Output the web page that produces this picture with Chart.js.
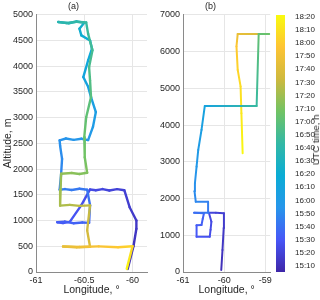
<!DOCTYPE html>
<html><head><meta charset="utf-8">
<script src="https://cdn.jsdelivr.net/npm/chart.js@4.4.1/dist/chart.umd.min.js"></script>
<style>
html,body{margin:0;padding:0;background:#fff;}
#wrap{position:relative;width:320px;height:300px;overflow:hidden;background:#fff;}
canvas{position:absolute;top:0;}
#cbt{position:absolute;left:316px;top:140px;transform:translate(-50%,-50%) rotate(-90deg);font:9.5px 'Liberation Sans',Arial,sans-serif;line-height:10px;color:#262626;white-space:nowrap;}
</style></head><body>
<div id="wrap">
<canvas id="ca" style="left:0" width="150" height="300"></canvas>
<canvas id="cb" style="left:150px" width="125" height="300"></canvas>
<canvas id="cc" style="left:272px" width="48" height="300"></canvas>
<div id="cbt">UTC time, h</div>
</div>
<script>
// ---- tick labels ----
const aTicksX = [-61, -60.5, -60];
const aTicksY = [0, 500, 1000, 1500, 2000, 2500, 3000, 3500, 4000, 4500, 5000];
const bTicksX = [-61, -60, -59];
const bTicksY = [0, 1000, 2000, 3000, 4000, 5000, 6000, 7000];
const cbTicks = ['15:10','15:20','15:30','15:40','15:50','16:00','16:10','16:20','16:30','16:40','16:50',
                 '17:00','17:10','17:20','17:30','17:40','17:50','18:00','18:10','18:20'];
const cbLimits = ['15:05.4', '18:21.3'];

// ---- flight (a) ----
const aLon = [-60.05,-59.99,-59.96,-59.96,-60.03,-60.085,-60.16,-60.24,-60.31,-60.38,-60.44,-60.53,-60.65,-60.72,-60.78,-60.70,-60.61,-60.52,-60.45,-60.44,-60.47,-60.55,-60.63,-60.70,-60.755,-60.74,-60.73,-60.75,-60.755,-60.69,-60.61,-60.53,-60.46,-60.41,-60.38,-60.43,-60.46,-60.51,-60.46,-60.42,-60.44,-60.53,-60.55,-60.50,-60.58,-60.66,-60.77,-60.68,-60.58,-60.48,-60.46,-60.415,-60.45,-60.44,-60.43,-60.48,-60.50,-60.495,-60.47,-60.55,-60.63,-60.74,-60.745,-60.75,-60.65,-60.55,-60.44,-60.47,-60.44,-60.58,-60.72,-60.55,-60.35,-60.15,-60.00,-60.06];
const aAlt = [60,500,840,1000,1260,1590,1610,1585,1612,1590,1605,1300,975,950,968,980,948,962,955,1300,1600,1618,1595,1612,1600,1900,2200,2450,2560,2595,2568,2590,2565,2820,3110,3400,3600,3790,4115,4340,4500,4600,4730,4845,4870,4835,4860,4840,4865,4850,4630,4310,3985,3725,3400,3010,2620,2230,1930,1905,1925,1910,1600,1290,1305,1285,1295,810,490,480,495,485,498,482,500,60];
const aTime = ['15:10','15:12','15:14','15:15','15:17','15:19','15:20','15:21','15:22','15:23','15:24','15:27','15:30','15:31','15:32','15:33','15:34','15:35','15:36','15:39','15:42','15:43','15:44','15:45','15:46','15:48','15:50','15:52','15:53','15:54','15:55','15:56','15:57','16:00','16:03','16:06','16:08','16:10','16:14','16:17','16:19','16:21','16:23','16:27','16:30','16:33','16:37','16:40','16:42','16:45','16:47','16:50','16:53','16:55','16:58','17:02','17:05','17:08','17:12','17:13','17:15','17:17','17:20','17:23','17:25','17:27','17:29','17:35','17:39','17:42','17:45','17:49','17:54','17:59','18:05','18:20'];

// ---- flight (b), two recorded pieces ----
const b1Lon = [-60.07,-60.04,-60.01,-60.005,-60.20,-60.37,-60.31,-60.33,-60.35,-60.67,-60.67,-60.55,-60.52,-60.49,-60.73,-60.38,-60.39,-60.69,-60.72,-60.71,-60.67,-60.63,-60.55,-60.47,-59.21,-59.16,-58.90];
const b1Alt = [54,600,1200,1600,1610,1610,1370,1150,960,960,1270,1280,1450,1600,1610,1615,1915,1915,2200,2415,2870,3320,3870,4520,4520,6480,6480];
const b1Time = ['15:10','15:13','15:16','15:18','15:20','15:22','15:24','15:25','15:27','15:30','15:32','15:33','15:34','15:35','15:39','15:43','15:46','15:49','15:51','15:53','15:57','16:00','16:04','16:09','16:45','17:02','17:06'];
const b2Lon = [-59.18,-59.67,-59.70,-59.67,-59.60,-59.58,-59.55];
const b2Alt = [6480,6480,6140,5500,5050,4320,3230];
const b2Time = ['17:38','17:46','17:58','18:04','18:08','18:13','18:20'];

// ---- helpers ----
const FONT = "'Liberation Sans', Arial, sans-serif";
const TXT = '#262626';
const toMin = s => { const p = s.split(':'); return (+p[0]) * 60 + (+p[1]); };
const cbMin = toMin(cbLimits[0]), cbMax = toMin(cbLimits[1]);
const PARULA = [
  [0.000, 62, 38, 168],
  [0.125, 71, 86, 247],
  [0.250, 39, 150, 235],
  [0.375, 10, 172, 213],
  [0.500, 51, 184, 165],
  [0.625, 113, 195, 100],
  [0.750, 206, 185, 62],
  [0.875, 254, 196, 52],
  [1.000, 249, 251, 14]
];
function parula(f) {
  f = Math.max(0, Math.min(1, f));
  for (let i = 1; i < PARULA.length; i++) {
    if (f <= PARULA[i][0]) {
      const a = PARULA[i - 1], b = PARULA[i];
      const u = (f - a[0]) / (b[0] - a[0]);
      const c = [1, 2, 3].map(k => Math.round(a[k] + (b[k] - a[k]) * u));
      return 'rgb(' + c.join(',') + ')';
    }
  }
  return 'rgb(249,251,14)';
}
const colAt = m => parula((m - cbMin) / (cbMax - cbMin));
const pts = (lon, alt) => lon.map((x, i) => ({ x: x, y: alt[i] }));
const segGrad = times => ctx => {
  const c = ctx.chart.ctx;
  const g = c.createLinearGradient(ctx.p0.x, ctx.p0.y, ctx.p1.x, ctx.p1.y);
  g.addColorStop(0, colAt(toMin(times[ctx.p0DataIndex])));
  g.addColorStop(1, colAt(toMin(times[ctx.p1DataIndex])));
  g._k = ctx.p0DataIndex;
  return g;
};
const track = (lon, alt, times, w) => ({
  data: pts(lon, alt), borderWidth: w, pointRadius: 0, borderCapStyle: 'round', borderJoinStyle: 'round',
  borderColor: colAt(toMin(times[0])), segment: { borderColor: segGrad(times) }
});
const fixedTicks = arr => s => { s.ticks = arr.map(v => ({ value: v })); };
const gridC = '#e6e6e6', axisC = '#8a8a8a';
function axisX(min, max, ticks) {
  return {
    type: 'linear', min: min, max: max, afterBuildTicks: fixedTicks(ticks), afterFit: s => { s.height = 28; },
    grid: { color: gridC, drawTicks: false }, border: { color: axisC },
    ticks: { font: { family: FONT, size: 9 }, color: TXT, padding: 3, maxRotation: 0, autoSkip: false, callback: v => String(v) },
    title: { display: true, text: 'Longitude, °', font: { family: FONT, size: 10.5 }, color: TXT, padding: { top: 0, bottom: 4 } }
  };
}
function axisY(min, max, ticks, width, title) {
  return {
    type: 'linear', min: min, max: max, afterBuildTicks: fixedTicks(ticks), afterFit: s => { s.width = width; },
    grid: { color: gridC, drawTicks: false }, border: { color: axisC },
    ticks: { font: { family: FONT, size: 9 }, color: TXT, padding: 3, autoSkip: false, callback: v => String(v) },
    title: { display: !!title, text: title || '', font: { family: FONT, size: 10.5 }, color: TXT, padding: { top: 2, bottom: 0 } }
  };
}
function base(label, right) {
  return {
    responsive: false, animation: false, events: [],
    layout: { padding: { left: 0, right: right, top: 0, bottom: 0 } },
    plugins: {
      legend: { display: false }, tooltip: { enabled: false },
      title: { display: true, text: label, font: { family: FONT, size: 9, weight: 'normal' }, color: TXT, padding: { top: 1, bottom: 3 } }
    }
  };
}

// ---- chart (a) ----
const oa = base('(a)', 3);
oa.scales = { x: axisX(-61, -59.85, aTicksX), y: axisY(0, 5000, aTicksY, 36, 'Altitude, m') };
new Chart(document.getElementById('ca'), { type: 'line', data: { datasets: [track(aLon, aAlt, aTime, 2.4)] }, options: oa });

// ---- chart (b) ----
const ob = base('(b)', 4);
ob.scales = { x: axisX(-61, -58.88, bTicksX), y: axisY(0, 7000, bTicksY, 33, null) };
new Chart(document.getElementById('cb'), { type: 'line',
  data: { datasets: [track(b1Lon, b1Alt, b1Time, 2), track(b2Lon, b2Alt, b2Time, 2)] }, options: ob });

// ---- colour bar ----
new Chart(document.getElementById('cc'), {
  type: 'bar',
  data: { labels: [''], datasets: [{
    data: [[cbMin, cbMax]], borderWidth: 0, barPercentage: 1, categoryPercentage: 1,
    backgroundColor: ctx => {
      const ch = ctx.chart; if (!ch.chartArea) return '#888';
      const ys = ch.scales.y;
      const g = ch.ctx.createLinearGradient(0, ys.getPixelForValue(cbMin), 0, ys.getPixelForValue(cbMax));
      for (let i = 0; i <= 40; i++) g.addColorStop(i / 40, parula(i / 40));
      return g;
    }
  }] },
  options: {
    responsive: false, animation: false, events: [],
    layout: { padding: { left: 4, right: 0, top: 15, bottom: 28 } },
    plugins: { legend: { display: false }, tooltip: { enabled: false } },
    scales: {
      x: { display: false },
      y: { position: 'right', min: cbMin, max: cbMax,
        afterBuildTicks: s => { s.ticks = cbTicks.map(l => ({ value: toMin(l) })); },
        afterFit: s => { s.width = 35; },
        grid: { display: false }, border: { display: false },
        ticks: { font: { family: FONT, size: 8 }, color: TXT, padding: 2, autoSkip: false,
          callback: (v, i) => cbTicks[i] } }
    }
  }
});
</script>
</body></html>
